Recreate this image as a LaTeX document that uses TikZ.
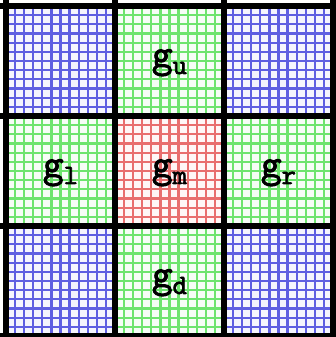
\documentclass[tikz,border=0pt]{standalone}
\usepackage{fontspec}
\newfontfamily\labfont{Latin Modern Mono}[FakeBold=2.5]
\definecolor{bl}{RGB}{95,95,225}
\definecolor{gr}{RGB}{110,228,110}
\definecolor{rd}{RGB}{232,110,110}
\newcommand{\glab}[1]{{\labfont\fontsize{40}{40}\selectfont g}\raisebox{-7pt}{\labfont\fontsize{28}{28}\selectfont #1}}
\begin{document}
\begin{tikzpicture}[x=1pt,y=1pt,
  blocklabel/.style={anchor=base,inner sep=0pt},
  thickline/.style={line width=5.5pt,black},
  fineline/.style={line width=2.2pt}]
\useasboundingbox (0,0) rectangle (335,337);
\fill[white] (0,0) rectangle (335,337);
\foreach \cc/\rr/\col in {0/0/bl,1/0/gr,2/0/bl,0/1/gr,1/1/rd,2/1/gr,0/2/bl,1/2/gr,2/2/bl}{
  \pgfmathsetmacro\xa{6+109*\cc}
  \pgfmathsetmacro\ya{221-110*\rr}
  \fill[\col!6] (\xa,\ya) rectangle ++(109,110);
  \foreach \k in {1,...,11}{
    \draw[fineline,\col] ({\xa+\k*109/12},\ya) -- ++(0,110);
    \draw[fineline,\col] (\xa,{\ya+\k*110/12}) -- ++(109,0);
  }
}
\foreach \x in {6,115,224,333} \draw[thickline] (\x,-5) -- (\x,342);
\foreach \y in {331,221,111,1} \draw[thickline] (-5,\y) -- (340,\y);
\node[blocklabel] (gu) at (169.5,270) {\glab{u}};
\node[blocklabel] (gl) at (60.5,160) {\glab{l}};
\node[blocklabel] (gm) at (169.5,160) {\glab{m}};
\node[blocklabel] (gr) at (278.5,160) {\glab{r}};
\node[blocklabel] (gd) at (169.5,50) {\glab{d}};
\end{tikzpicture}
\end{document}
